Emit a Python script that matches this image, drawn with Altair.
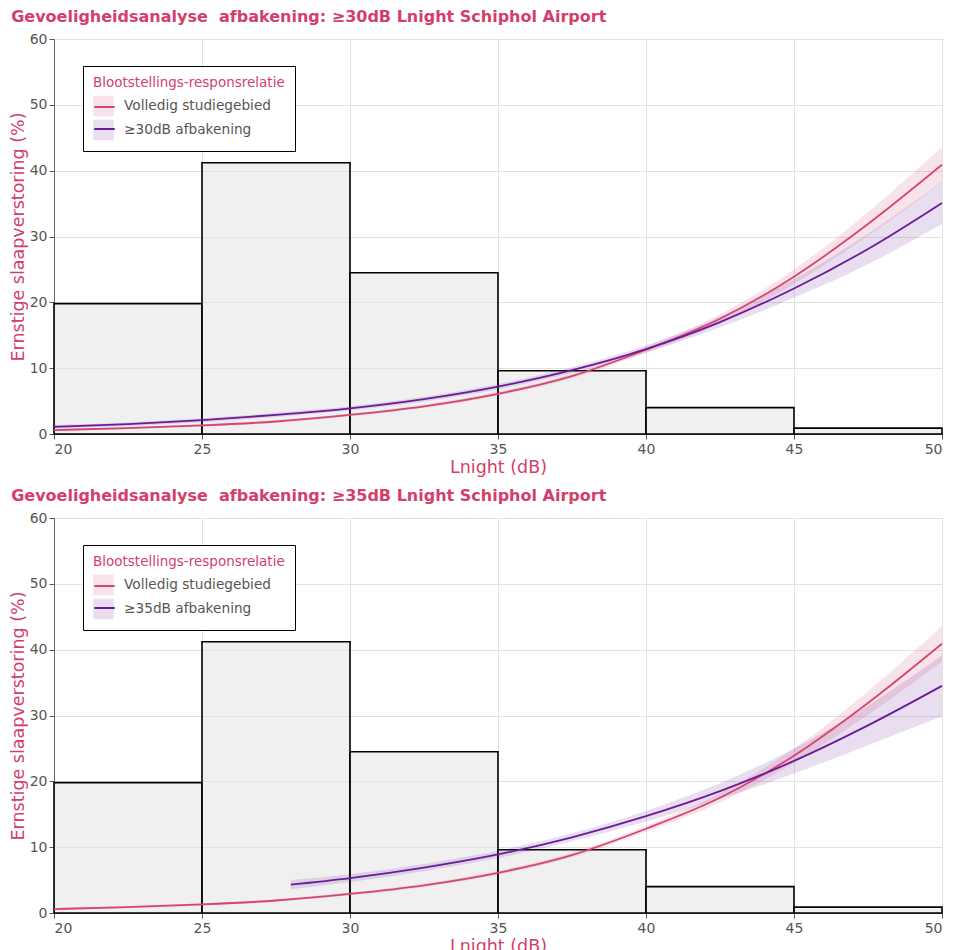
import altair as alt
import pandas as pd

# ---------------- data ----------------
BIN_START = [20, 25, 30, 35, 40, 45]
BIN_END = [25, 30, 35, 40, 45, 50]
HIST_PCT = [19.8, 41.2, 24.5, 9.6, 4.0, 0.9]

FULL_X = [20, 22.5, 25, 27.5, 30, 32.5, 35, 37.5, 40, 42.5, 45, 47.5, 50]
FULL_MID = [0.6, 0.9, 1.3, 1.9, 2.9, 4.2, 6.1, 8.8, 12.8, 17.5, 23.9, 31.9, 40.9]
FULL_LO = [0.45, 0.75, 1.1, 1.7, 2.7, 3.95, 5.8, 8.45, 12.35, 16.8, 22.8, 30.1, 38.2]
FULL_HI = [0.75, 1.05, 1.5, 2.1, 3.1, 4.45, 6.4, 9.15, 13.25, 18.2, 25.0, 33.7, 43.6]

SUB30_X = [20, 22.5, 25, 27.5, 30, 32.5, 35, 37.5, 40, 42.5, 45, 47.5, 50]
SUB30_MID = [1.1, 1.5, 2.1, 2.9, 3.9, 5.3, 7.2, 9.7, 12.9, 17.0, 22.1, 28.1, 35.1]
SUB30_LO = [0.85, 1.25, 1.8, 2.6, 3.6, 4.95, 6.8, 9.25, 12.35, 16.2, 20.7, 25.8, 31.9]
SUB30_HI = [1.35, 1.75, 2.4, 3.2, 4.2, 5.65, 7.6, 10.15, 13.45, 17.8, 23.5, 30.4, 38.3]

SUB35_X = [28, 30, 32.5, 35, 37.5, 40, 42.5, 45, 47.5, 50]
SUB35_MID = [4.3, 5.3, 6.9, 8.9, 11.5, 14.7, 18.5, 23.1, 28.5, 34.5]
SUB35_LO = [3.6, 4.7, 6.35, 8.35, 10.9, 13.9, 17.3, 21.2, 25.5, 29.9]
SUB35_HI = [5.0, 5.9, 7.45, 9.45, 12.1, 15.5, 19.7, 25.0, 31.5, 39.1]

SERIES_FULL = "Volledig studiegebied"
SERIES_30 = "≥30dB afbakening"
SERIES_35 = "≥35dB afbakening"
TITLE_30 = "Gevoeligheidsanalyse\u00a0 afbakening: ≥30dB Lnight Schiphol Airport"
TITLE_35 = "Gevoeligheidsanalyse\u00a0 afbakening: ≥35dB Lnight Schiphol Airport"
LEGEND_TITLE = "Blootstellings-responsrelatie"
X_TITLE = "Lnight (dB)"
Y_TITLE = "Ernstige slaapverstoring (%)"
X_TICKS = [20, 25, 30, 35, 40, 45, 50]
Y_TICKS = [0, 10, 20, 30, 40, 50, 60]

PINK = "#d6456f"
PURPLE = "#6a1b9a"
TITLE_PINK = "#d33f6a"
FONT = "DejaVu Sans"

W, H = 888, 395


def curve_frame(name, xs, mid, lo, hi):
    return pd.DataFrame({
        "x": xs, "mid": mid, "lo": lo, "hi": hi,
        "series": [name] * len(xs),
        "band": [name + " "] * len(xs),
    })


hist_df = pd.DataFrame({"start": BIN_START, "end": BIN_END, "pct": HIST_PCT})

xscale = alt.Scale(domain=[20, 50], nice=False, zero=False)
yscale = alt.Scale(domain=[0, 60], nice=False)
xaxis = alt.Axis(values=X_TICKS, format="d", title=X_TITLE)
yaxis = alt.Axis(values=Y_TICKS, format="d", title=Y_TITLE)

common_legend = dict(
    title=LEGEND_TITLE, orient="none", legendX=29, legendY=27,
    symbolSize=420, padding=10, rowPadding=3, titlePadding=6,
    titleFontSize=13.5, titleFontWeight="normal", titleFont=FONT, titleLimit=400,
    labelFontSize=13.7, labelFont=FONT, labelOffset=10, labelLimit=400,
    cornerRadius=0,
)


def panel(sub_name, xs, mid, lo, hi, title):
    cdf = pd.concat([
        curve_frame(SERIES_FULL, FULL_X, FULL_MID, FULL_LO, FULL_HI),
        curve_frame(sub_name, xs, mid, lo, hi),
    ], ignore_index=True)

    bars = alt.Chart(hist_df).mark_rect(
        fill="#e4e4e4", fillOpacity=0.55, stroke="black", strokeWidth=1.6
    ).encode(
        x=alt.X("start:Q", scale=xscale, axis=xaxis),
        x2="end:Q",
        y=alt.Y("pct:Q", scale=yscale, axis=yaxis),
        y2=alt.datum(0),
    )

    bands = alt.Chart(cdf).mark_area(
        fillOpacity=0.15, interpolate="monotone"
    ).encode(
        x=alt.X("x:Q", scale=xscale, axis=xaxis),
        y=alt.Y("lo:Q", scale=yscale, axis=yaxis),
        y2="hi:Q",
        fill=alt.Fill(
            "band:N",
            scale=alt.Scale(domain=[SERIES_FULL + " ", sub_name + " "], range=[PINK, PURPLE]),
            legend=alt.Legend(
                symbolType="square", symbolOpacity=0.15, symbolStrokeWidth=0,
                fillColor="white", strokeColor="black",
                titleColor=TITLE_PINK, labelColor="#555555", zindex=1,
                **common_legend,
            ),
        ),
    )

    lines = alt.Chart(cdf).mark_line(
        strokeWidth=1.8, interpolate="monotone"
    ).encode(
        x=alt.X("x:Q", scale=xscale, axis=xaxis),
        y=alt.Y("mid:Q", scale=yscale, axis=yaxis),
        stroke=alt.Stroke(
            "series:N",
            scale=alt.Scale(domain=[SERIES_FULL, sub_name], range=[PINK, PURPLE]),
            legend=alt.Legend(
                symbolType="stroke", symbolStrokeWidth=2,
                titleColor="transparent", labelColor="transparent",
                labelExpr="''", zindex=2,
                **common_legend,
            ),
        ),
    )

    return alt.layer(bars, bands, lines).resolve_scale(
        fill="independent", stroke="independent"
    ).properties(
        width=W, height=H,
        title=alt.Title(title, anchor="start", frame="bounds", offset=7, dx=2,
                        fontSize=16, fontWeight="bold", color=TITLE_PINK, font=FONT),
    )


top = panel(SERIES_30, SUB30_X, SUB30_MID, SUB30_LO, SUB30_HI, TITLE_30)
bottom = panel(SERIES_35, SUB35_X, SUB35_MID, SUB35_LO, SUB35_HI, TITLE_35)

chart = alt.vconcat(
    top, bottom, spacing=11,
    padding={"left": 0, "top": 0, "right": 0, "bottom": 0},
).resolve_scale(
    fill="independent", stroke="independent"
).resolve_legend(
    fill="independent", stroke="independent"
).configure_view(
    stroke="#333333", strokeWidth=1
).configure_axis(
    grid=True, gridColor="#e2e2e2", gridWidth=1,
    domainColor="#666666", tickColor="#555555", tickSize=5,
    labelColor="#555555", labelFontSize=14, labelFont=FONT, labelPadding=2,
    titleColor=TITLE_PINK, titleFontSize=17.5, titleFontWeight="normal", titleFont=FONT,
).configure_axisX(
    titlePadding=2, labelPadding=3
).configure_axisY(
    titlePadding=2
)

chart.save("out.html", embed_options={"renderer": "svg", "actions": False})
